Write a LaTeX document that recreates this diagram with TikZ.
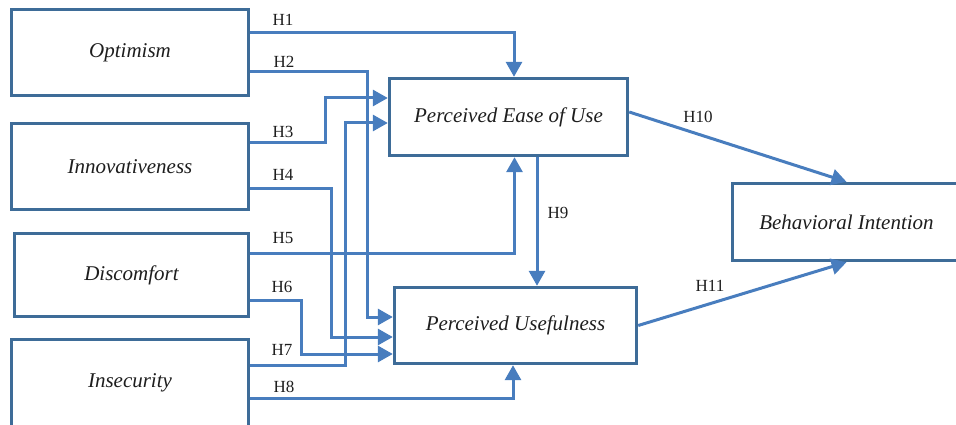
\documentclass[tikz,border=0pt]{standalone}
\usepackage{fontspec}
\setmainfont{Liberation Serif}
\usetikzlibrary{arrows.meta}
\definecolor{boxblue}{RGB}{62,108,152}
\definecolor{linkblue}{RGB}{72,125,190}
\definecolor{txt}{RGB}{30,30,30}
\begin{document}
\begin{tikzpicture}[x=1pt,y=-1pt,
  box/.style={draw=boxblue, line width=3.4pt, fill=white, inner sep=0pt,
    font=\fontsize{21}{25}\selectfont\itshape, text=txt},
  conn/.style={draw=linkblue, line width=3pt,
    -{Triangle[length=15pt,width=16pt]}},
  hlab/.style={font=\fontsize{17}{19}\selectfont, text=txt, inner sep=0pt}]
\clip (0,0) rectangle (956,425);
% boxes
\node[box, minimum width=237pt, minimum height=86pt] (opt) at (130,52.5) {Optimism};
\node[box, minimum width=237pt, minimum height=86pt] (inn) at (130,166.5) {Innovativeness};
\node[box, minimum width=234pt, minimum height=83pt] (dis) at (131.5,275) {Discomfort};
\node[box, minimum width=237pt, minimum height=87pt] (ins) at (130,383) {Insecurity};
\node[box, minimum width=238pt, minimum height=77pt] (peou) at (508.5,117) {Perceived Ease of Use};
\node[box, minimum width=242pt, minimum height=76pt] (pu) at (515.5,325.5) {Perceived Usefulness};
\node[box, minimum width=228pt, minimum height=77pt] (bi) at (846.5,222) {Behavioral Intention};
% connectors
\draw[conn] (opt.east |- 0,33) -| ([xshift=5.5pt]peou.north);
\draw[conn] (opt.east |- 0,72) -| (367,317) -- (pu.west |- 0,317);
\draw[conn] (inn.east |- 0,143) -| (325,98) -- (peou.west |- 0,98);
\draw[conn] (inn.east |- 0,188) -| (331,337) -- (pu.west |- 0,337);
\draw[conn] (dis.east |- 0,253) -| ([xshift=6pt]peou.south);
\draw[conn] (dis.east |- 0,300) -| (301,354) -- (pu.west |- 0,354);
\draw[conn] (ins.east |- 0,365) -| (345,123) -- (peou.west |- 0,123);
\draw[conn] (ins.east |- 0,398) -| ([xshift=-2.5pt]pu.south);
\draw[conn] ([xshift=28.5pt]peou.south) -- ([xshift=28.5pt]peou.south |- pu.north);
\draw[conn] ([yshift=5pt]peou.east) -- (bi.north);
\draw[conn] (pu.east) -- (bi.south);
% labels
\node[hlab] (l1) at (283,20) {H1};
\node[hlab] (l2) at (284,62) {H2};
\node[hlab] (l3) at (283,132) {H3};
\node[hlab] (l4) at (283,175) {H4};
\node[hlab] (l5) at (283,238) {H5};
\node[hlab] (l6) at (282,287) {H6};
\node[hlab] (l7) at (282,350) {H7};
\node[hlab] (l8) at (284,387) {H8};
\node[hlab] (l9) at (558,213) {H9};
\node[hlab] (l10) at (698,117) {H10};
\node[hlab] (l11) at (710,286) {H11};
\end{tikzpicture}
\end{document}
